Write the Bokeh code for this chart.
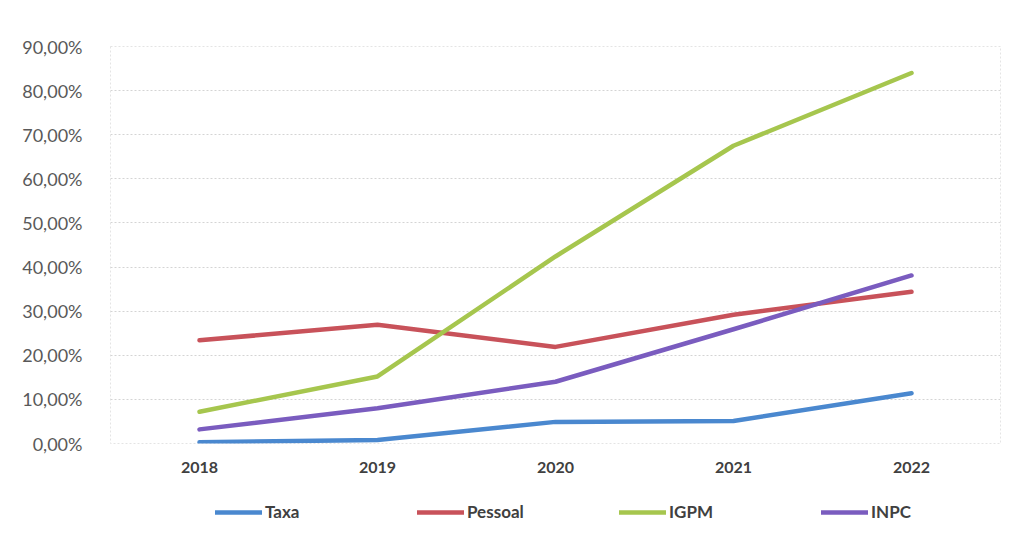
from bokeh.plotting import figure
from bokeh.layouts import column
from bokeh.models import FixedTicker, CustomJSTickFormatter, Legend, LegendItem, Range1d, FactorRange
from bokeh.embed import file_html
from bokeh.resources import INLINE

years = ["2018", "2019", "2020", "2021", "2022"]
taxa = [0.003, 0.008, 0.049, 0.051, 0.114]
pessoal = [0.234, 0.269, 0.219, 0.292, 0.344]
igpm = [0.072, 0.152, 0.424, 0.675, 0.840]
inpc = [0.032, 0.080, 0.140, 0.259, 0.381]
y_ticks = [0.0, 0.1, 0.2, 0.3, 0.4, 0.5, 0.6, 0.7, 0.8, 0.9]

series = [
    ("Taxa", taxa, "#4a88cf"),
    ("Pessoal", pessoal, "#c8525a"),
    ("IGPM", igpm, "#a6c64e"),
    ("INPC", inpc, "#7a5cbf"),
]

p = figure(width=1010, height=480, x_range=FactorRange(*years, range_padding=0),
           y_range=Range1d(0, 0.9), output_backend="svg", toolbar_location=None,
           min_border_left=110, min_border_right=10, min_border_top=46, min_border_bottom=37)
p.outline_line_color = "#e4e4e4"
p.outline_line_dash = "2 2"
p.background_fill_color = "white"
p.border_fill_color = "white"

p.yaxis.ticker = FixedTicker(ticks=y_ticks)
p.yaxis.formatter = CustomJSTickFormatter(code="return (tick*100).toFixed(2).replace('.', ',') + '%';")
p.yaxis.axis_line_color = None
p.yaxis.major_tick_line_color = None
p.yaxis.minor_tick_line_color = None
p.yaxis.major_label_standoff = 22
p.yaxis.major_label_text_font = "Lato"
p.yaxis.major_label_text_font_size = "18px"
p.yaxis.major_label_text_color = "#595959"

p.xaxis.axis_line_color = None
p.xaxis.major_tick_line_color = None
p.xaxis.minor_tick_line_color = None
p.xaxis.major_label_standoff = 12
p.xaxis.major_label_text_font = "Lato"
p.xaxis.major_label_text_font_style = "bold"
p.xaxis.major_label_text_font_size = "16px"
p.xaxis.major_label_text_color = "#404040"

p.xgrid.grid_line_color = None
p.ygrid.grid_line_color = "#d4d4d4"
p.ygrid.grid_line_dash = "2 2"
p.ygrid.grid_line_width = 1

# legend figure below the chart (its frame is aligned with the chart's frame)
p2 = figure(width=1010, height=60, output_backend="svg", toolbar_location=None,
            x_range=Range1d(0, 1), y_range=Range1d(0, 1),
            x_axis_location=None, y_axis_location=None,
            min_border_left=0, min_border_right=0, min_border_top=0, min_border_bottom=0)
p2.outline_line_color = None
p2.xgrid.grid_line_color = None
p2.ygrid.grid_line_color = None

items = []
for name, vals, color in series:
    p.line(years, vals, line_color=color, line_width=4.5, line_cap="round", line_join="round")
    dummy = p2.line(x=[-10, -9], y=[-10, -9], line_color=color, line_width=4.5, line_cap="round")
    items.append(LegendItem(label=name, renderers=[dummy]))

legend = Legend(items=items, orientation="horizontal", location=(105, 18),
                glyph_width=47, glyph_height=20, label_standoff=3, label_width=148,
                spacing=4, padding=0, margin=0, border_line_color=None,
                background_fill_alpha=0, label_text_font="Lato",
                label_text_font_style="bold", label_text_font_size="17px",
                label_text_color="#404040")
p2.add_layout(legend, "center")

layout = column(p, p2, spacing=0)
open("out.html", "w").write(file_html(layout, INLINE))
